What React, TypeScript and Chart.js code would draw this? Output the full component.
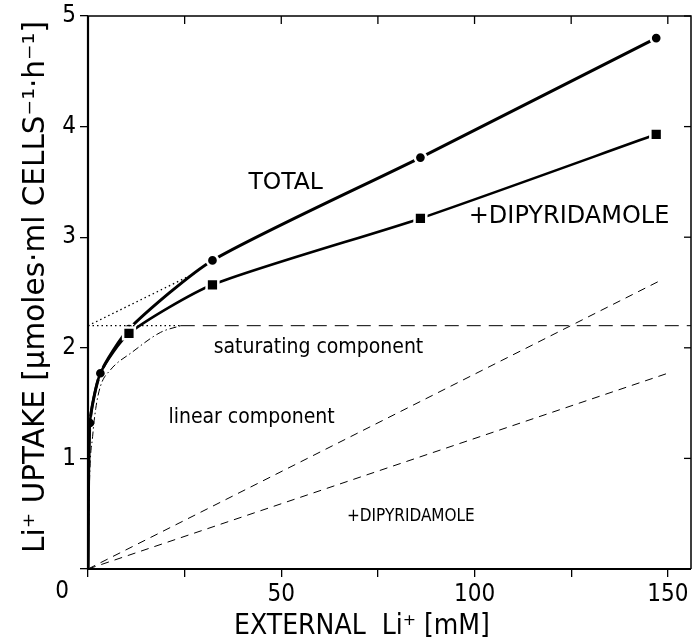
import React, { useEffect, useRef } from "react";
import { Chart, registerables } from "chart.js";
Chart.register(...registerables);

// ---- data ----
const totalX = [0, 0.5, 3.2, 10.6, 32.2, 86, 147];
const totalY = [0, 1.32, 1.77, 2.17, 2.79, 3.72, 4.8];
const dipX = [0, 0.5, 3.2, 10.6, 32.2, 86, 147];
const dipY = [0, 1.32, 1.77, 2.13, 2.57, 3.17, 3.93];
const satX = [0, 0.4, 1.2, 2, 3.2, 5.8, 11.4, 18.8, 24];
const satY = [0, 0.8, 1.2, 1.45, 1.65, 1.8, 1.96, 2.14, 2.2];
const plateauX = [24, 157];
const plateauY = [2.2, 2.2];
const linTotalX = [0, 147.6];
const linTotalY = [0, 2.6];
const linDipX = [0, 150];
const linDipY = [0, 1.77];
const dotHX = [0, 24];
const dotHY = [2.2, 2.2];
const dotSX = [0, 28];
const dotSY = [2.2, 2.68];
const xTickValues = [0, 25, 50, 75, 100, 125, 150];
const xTickLabels = ["", "", "50", "", "100", "", "150"];
const yTickValues = [0, 1, 2, 3, 4, 5];
const yTickLabels = ["", "1", "2", "3", "4", "5"];

const COND = "'DejaVu Sans Condensed', 'DejaVu Sans', sans-serif";
const WIDE = "'DejaVu Sans', sans-serif";

const pts = (xs: number[], ys: number[]) => xs.map((x, i) => ({ x, y: ys[i] }));

export default function App() {
  const ref = useRef<HTMLCanvasElement | null>(null);
  useEffect(() => {
    if (!ref.current) return;
    const decor = {
      id: "decor",
      afterDatasetsDraw(chart: any) {
        const { ctx, chartArea: a, scales } = chart;
        const sx = scales.x, sy = scales.y;
        ctx.save();
        ctx.strokeStyle = "#000";
        // frame
        ctx.lineWidth = 1.5;
        ctx.beginPath();
        ctx.moveTo(a.left, a.top);
        ctx.lineTo(a.right, a.top);
        ctx.lineTo(a.right, a.bottom);
        ctx.stroke();
        ctx.lineWidth = 2.2;
        ctx.beginPath();
        ctx.moveTo(a.left, a.top);
        ctx.lineTo(a.left, a.bottom);
        ctx.lineTo(a.right, a.bottom);
        ctx.stroke();
        // inward ticks top / right
        ctx.lineWidth = 1.3;
        xTickValues.forEach((v) => {
          const px = sx.getPixelForValue(v);
          ctx.beginPath();
          ctx.moveTo(px, a.top);
          ctx.lineTo(px, a.top + 8);
          ctx.stroke();
        });
        yTickValues.forEach((v) => {
          const py = sy.getPixelForValue(v);
          ctx.beginPath();
          ctx.moveTo(a.right, py);
          ctx.lineTo(a.right - 7, py);
          ctx.stroke();
        });
        ctx.fillStyle = "#000";
        // x tick labels
        ctx.font = `24px ${COND}`;
        ctx.textAlign = "center";
        ctx.textBaseline = "alphabetic";
        xTickValues.forEach((v, i) => {
          if (xTickLabels[i]) ctx.fillText(xTickLabels[i], sx.getPixelForValue(v), a.bottom + 32);
        });
        // annotations
        ctx.textAlign = "left";
        const txt = (s: string, x: number, y: number, font: string) => {
          ctx.font = font;
          ctx.fillText(s, sx.getPixelForValue(x), sy.getPixelForValue(y));
        };
        txt("TOTAL", 41.5, 3.44, `23.5px ${WIDE}`);
        txt("+DIPYRIDAMOLE", 98.5, 3.13, `24px ${WIDE}`);
        txt("saturating component", 32.5, 1.95, `21px ${COND}`);
        txt("linear component", 20.8, 1.32, `21px ${COND}`);
        txt("+DIPYRIDAMOLE", 67, 0.43, `17px ${COND}`);
        // shared origin label
        ctx.font = `24px ${COND}`;
        ctx.textAlign = "center";
        ctx.textBaseline = "middle";
        ctx.fillText("0", sx.getPixelForValue(0) - 26, sy.getPixelForValue(0) + 23);
        // axis titles
        ctx.font = `28px ${COND}`;
        ctx.fillText("EXTERNAL  Li⁺ [mM]", 362, 627);
        ctx.translate(36, 287);
        ctx.rotate(-Math.PI / 2);
        ctx.font = `29.5px ${WIDE}`;
        ctx.fillText("Li⁺ UPTAKE [μmoles·ml CELLS⁻¹·h⁻¹]", 0, 0);
        ctx.restore();
      },
    };

    const thin = { borderColor: "#000", borderWidth: 1, pointRadius: 0, fill: false, tension: 0 };
    const chart = new Chart(ref.current, {
      type: "line",
      data: {
        datasets: [
          { ...thin, data: pts(linTotalX, linTotalY), borderDash: [8, 6] } as any,
          { ...thin, data: pts(linDipX, linDipY), borderDash: [8, 6] } as any,
          { ...thin, data: pts(plateauX, plateauY), borderDash: [14, 8] } as any,
          { ...thin, data: pts(satX, satY), borderDash: [7, 3, 1.5, 3], cubicInterpolationMode: "monotone" } as any,
          { ...thin, data: pts(dotHX, dotHY), borderDash: [1.5, 3], borderWidth: 1.3 } as any,
          { ...thin, data: pts(dotSX, dotSY), borderDash: [1.5, 3], borderWidth: 1.3 } as any,
          {
            data: pts(dipX, dipY),
            borderColor: "#000",
            backgroundColor: "#000",
            borderWidth: 2.6,
            tension: 0.22,
            pointStyle: "rect",
            pointRadius: [0, 0, 0, 8.3, 8.3, 8.3, 8.3],
            pointBorderColor: "#fff",
            pointBorderWidth: 2.5,
            pointBackgroundColor: "#000",
          } as any,
          {
            data: pts(totalX, totalY),
            borderColor: "#000",
            backgroundColor: "#000",
            borderWidth: 3,
            tension: 0.22,
            pointStyle: "circle",
            pointRadius: [0, 5.6, 5.6, 5.6, 5.6, 5.6, 5.6],
            pointBorderColor: "#fff",
            pointBorderWidth: 2.5,
            pointBackgroundColor: "#000",
          } as any,
        ],
      },
      options: {
        animation: false,
        responsive: false,
        devicePixelRatio: 1,
        layout: { autoPadding: false, padding: { top: 16, right: 1, left: 0, bottom: 0 } },
        plugins: { legend: { display: false }, tooltip: { enabled: false } },
        scales: {
          x: {
            type: "linear",
            min: 0,
            max: 156,
            afterBuildTicks: (s: any) => {
              s.ticks = xTickValues.map((v) => ({ value: v }));
            },
            afterFit: (s: any) => {
              s.height = 74;
              s.paddingLeft = 0;
              s.paddingRight = 0;
            },
            ticks: {
              autoSkip: false,
              maxRotation: 0,
              padding: 4,
              color: "#000",
              font: { family: COND, size: 24 },
              callback: () => "",
            },
            grid: { drawOnChartArea: false, drawTicks: true, tickLength: 8, color: "#000", lineWidth: 1.3 },
            border: { display: false },
          },
          y: {
            type: "linear",
            min: 0,
            max: 5,
            afterBuildTicks: (s: any) => {
              s.ticks = yTickValues.map((v) => ({ value: v }));
            },
            afterFit: (s: any) => {
              s.width = 88;
              s.paddingTop = 0;
              s.paddingBottom = 0;
            },
            ticks: {
              padding: 4,
              color: "#000",
              font: { family: COND, size: 24 },
              callback: (_v: any, i: number) => yTickLabels[i],
            },
            grid: { drawOnChartArea: false, drawTicks: true, tickLength: 8, color: "#000", lineWidth: 1.3 },
            border: { display: false },
          },
        },
      } as any,
      plugins: [decor],
    });
    return () => chart.destroy();
  }, []);
  return (
    <div style={{ position: "fixed", left: 0, top: 0, width: 692, height: 643, background: "#fff" }}>
      <canvas ref={ref} width={692} height={643} style={{ width: 692, height: 643 }} />
    </div>
  );
}
